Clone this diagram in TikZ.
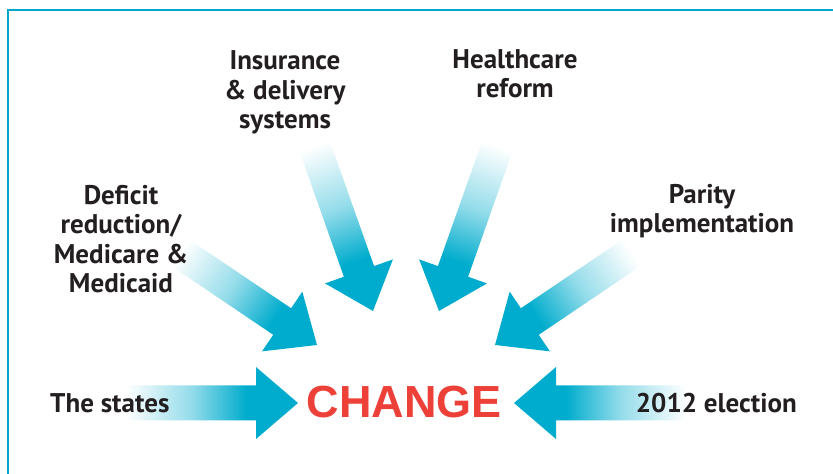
\documentclass[tikz,border=0pt]{standalone}
\usepackage{fontspec}
\setmainfont{PT Sans}
\newfontfamily\changefont{Liberation Sans}
\definecolor{arrowc}{RGB}{0,172,205}
\definecolor{framec}{RGB}{0,166,204}
\definecolor{textc}{RGB}{35,31,32}
\definecolor{changec}{RGB}{236,64,56}
\colorlet{arrowtail}{white}
\colorlet{arrowmid}{arrowc!42!white}
\pgfdeclarehorizontalshading{arrowfade}{100bp}{color(0bp)=(arrowtail); color(25bp)=(arrowtail); color(44bp)=(arrowmid); color(60bp)=(arrowc); color(100bp)=(arrowc)}
% tip x, tip y, direction angle, total length, shaft width
\newcommand\bigarrow[5]{%
  \begin{scope}[transform canvas={shift={(#1,#2)},rotate=#3}]
    \shade[shading=arrowfade] (0,0) -- (-42,36) -- (-42,#5/2) -- (-#4,#5/2)
      -- (-#4,-#5/2) -- (-42,-#5/2) -- (-42,-36) -- cycle;
  \end{scope}}
\tikzset{
  label/.style={font=\bfseries\fontsize{27}{29.5}\selectfont, text=textc, align=center, inner sep=0pt},
}
\begin{document}
\begin{tikzpicture}[x=1pt,y=1pt]
\useasboundingbox (0,0) rectangle (833,474);
\draw[framec, line width=2.2pt] (8,0) -- (8,464) -- (833,464);
% arrows
\bigarrow{317}{129}{-34}{165}{32}
\bigarrow{495}{129}{214}{165}{32}
\bigarrow{373}{163}{-70.5}{175}{32}
\bigarrow{439}{163}{250.5}{175}{32}
\bigarrow{298}{71}{0}{172}{35}
\bigarrow{514}{71}{180}{172}{35}
% labels (base = baseline of the last line)
\node[label, anchor=base] (ins) at (285,345) {Insurance\\\& delivery\\systems};
\node[label, anchor=base] (hc) at (515,376) {Healthcare\\reform};
\node[label, anchor=base] (def) at (121,181) {Deficit\\reduction/\\Medicare \&\\Medicaid};
\node[label, anchor=base] (par) at (702,241) {Parity\\implementation};
\node[label, anchor=base west] (sta) at (50,61) {The states};
\node[label, anchor=base east] (ele) at (797,61) {2012 election};
\node[font=\changefont\bfseries\fontsize{45}{45}\selectfont, text=changec, inner sep=0pt, anchor=base] (chg) at (404.5,56) {CHANGE};
\end{tikzpicture}
\end{document}
